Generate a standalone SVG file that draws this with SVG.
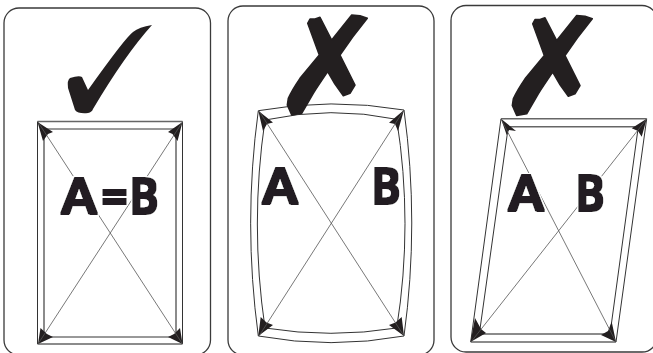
<svg xmlns="http://www.w3.org/2000/svg" width="653" height="353" viewBox="0 0 653 353">
<style>
.panel{fill:#fff;stroke:#3a3a3a;stroke-width:1.3}
.frame{fill:none;stroke:#333;stroke-width:1}
.thick{fill:none;stroke:#666;stroke-width:1.5}
.diag{stroke:#555;stroke-width:.8;fill:none}
.ink{fill:#231f20}
.lbl{font-family:Lato,"Liberation Sans",sans-serif;font-weight:900;font-size:50px;fill:#231f20;filter:url(#heavy)}
</style>
<defs>
<filter id="heavy" x="-30%" y="-30%" width="160%" height="160%">
<feMorphology in="SourceAlpha" operator="dilate" radius="2.200" result="halo"/>
<feFlood flood-color="#fff"/>
<feComposite in2="halo" operator="in" result="white"/>
<feMorphology in="SourceGraphic" operator="dilate" radius="0.600" result="fat"/>
<feMerge><feMergeNode in="white"/><feMergeNode in="fat"/></feMerge>
</filter>
<path id="x" class="ink" stroke="#231f20" stroke-width="1.500" stroke-linejoin="round" d="M307.700 23.300L310 19L315 19L320 17.300L331.700 40L351.700 15L360 15.700L367.300 18.300Q352 37 340 55L355 85L350 93.300L343.300 95.700Q334 84 327.700 71.700Q318 86 313.300 93.300L301.700 113.300L291.700 115L287.300 105L288.300 98.300Q292 90 300 78.300L319.300 55Z"/>
</defs>
<rect width="653" height="353" fill="#fff"/>
<g id="panel-equal">
<rect class="panel" x="4" y="8" width="206.500" height="347" rx="15"/>
<path class="ink" d="M152 25 Q139 27 133 32 Q125 38 88 90 L82 77 Q79 75 70 78 Q67 80 68 88 L75 110 Q78 114 88 113 Q92 112 93 109 Q125 55 152 25Z"/>
<path class="thick" d="M37.500 121.500H182.500M44 129V337M176 129V337M37.500 344H182.500"/>
<path class="frame" d="M37.500 121.500V344M182.500 121.500V344M44 129H176M44 337H176"/>
<polygon class="ink" points="37.500,122 53,132 48,134 43,141"/>
<polygon class="ink" points="182.500,122 168,132 172.500,134 177.500,141"/>
<polygon class="ink" points="38,344 53,337 47,334 40.500,328"/>
<polygon class="ink" points="182.500,344 168,337 174,334 180,328"/>
</g>
<g id="panel-barrel">
<rect class="panel" x="228" y="6" width="206" height="349" rx="15"/>
<path class="frame" d="M258.300 110.700Q331 97.500 404 110Q419.500 223 404 336Q331 349.300 258.300 336Q243 223 258.300 110.700Z"/>
<path class="frame" d="M265 120Q331 105.700 396.700 119.300Q413.300 224 396.700 328Q331 338.600 265 328Q249.700 224 265 120Z"/>
<polygon class="ink" points="258.300,110.700 273,122.500 267,124 263,131"/>
<polygon class="ink" points="404,110 389,122.700 395,124 398,131"/>
<polygon class="ink" points="258.300,336 273,325 266.500,322.500 260.700,317"/>
<polygon class="ink" points="404,336 389,325 395.500,322.500 401.700,317"/>
</g>
<g id="panel-skew">
<rect class="panel" x="451" y="5.500" width="206" height="346.500" rx="15"/>
<path class="frame" d="M501 118.700L470.700 342M646.700 118.700L616 342M508.300 126.700L479.300 334M638.300 126.700L610 334"/>
<path class="thick" d="M501 118.700H646.700M470.700 342H616M508.300 126.700H638.300M479.300 334H610"/>
<polygon class="ink" points="501,118.700 516,131 509,130 506.700,135"/>
<polygon class="ink" points="646.700,118.700 631.700,128.300 638,131 641.700,136.700"/>
<polygon class="ink" points="470.500,342 486,333 481,329 475,318"/>
<polygon class="ink" points="616,342 601,335 608,331 611.700,321.700"/>
</g>
<g id="connectors">
<path class="diag" d="M38 122L182.500 344M182.500 122L38 344"/>
<path class="diag" d="M259 111L404 336M404 110L259 336"/>
<path class="diag" d="M501 119L616 342M646.700 119L471 342"/>
</g>
<g id="marks">
<use href="#x"/>
<use href="#x" x="225" y="0.500"/>
</g>
<g id="labels">
<text class="lbl" x="61.500" y="213.500">A</text>
<text class="lbl" x="100" y="213.500">=</text>
<text class="lbl" x="130" y="213.500" textLength="28" lengthAdjust="spacingAndGlyphs">B</text>
<text class="lbl" x="262.500" y="204">A</text>
<text class="lbl" x="372" y="204" textLength="28" lengthAdjust="spacingAndGlyphs">B</text>
<text class="lbl" x="508.500" y="211">A</text>
<text class="lbl" x="576" y="211" textLength="28" lengthAdjust="spacingAndGlyphs">B</text>
</g>
</svg>
